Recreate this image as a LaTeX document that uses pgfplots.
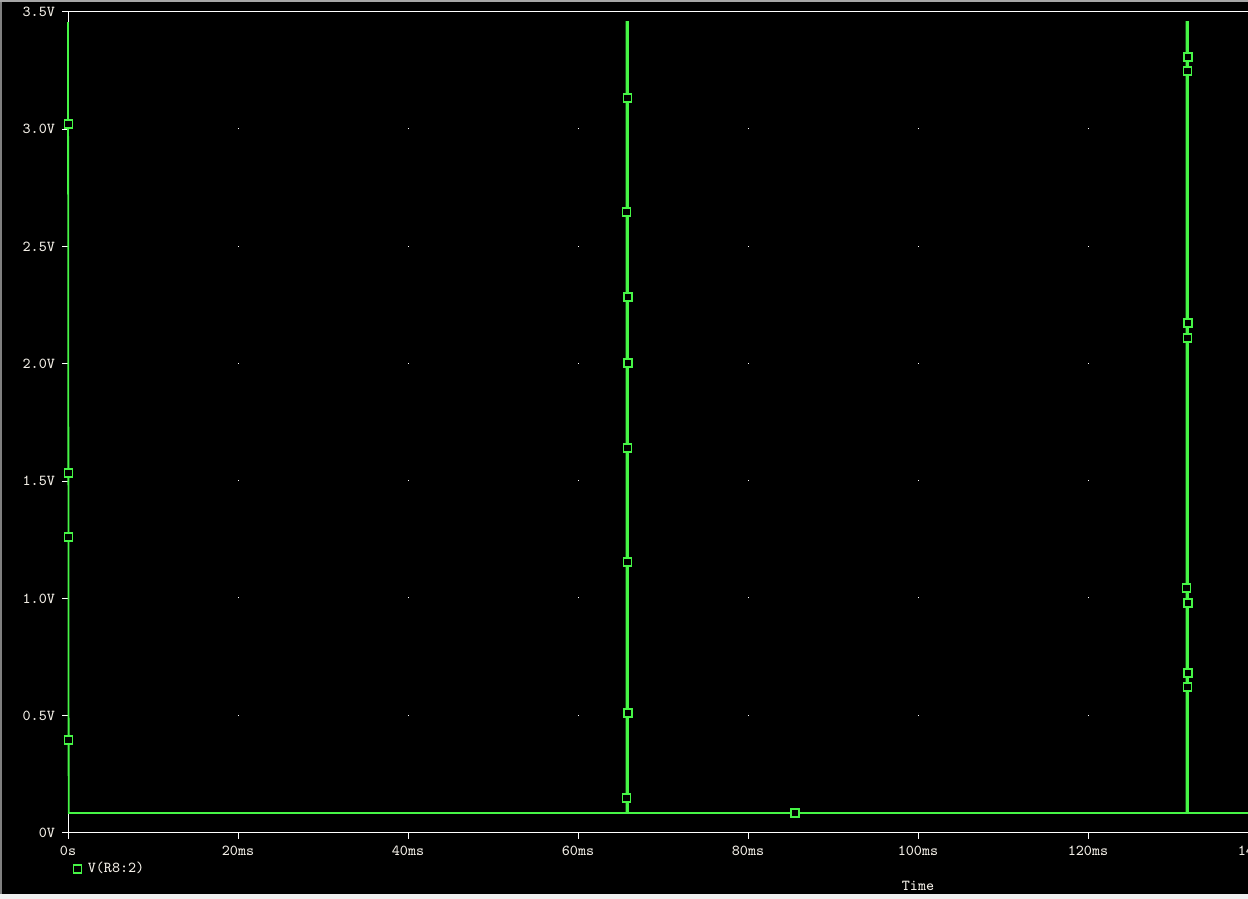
\documentclass[border=0pt]{standalone}
\usepackage{fontspec}
\usepackage{pgfplots}
\pgfplotsset{compat=1.18}
\definecolor{trace}{RGB}{70,245,70}
\definecolor{lbl}{RGB}{242,238,230}
\pgfplotstableread{
t v
0 3.457
0.08 0.085
65.72 0.085
65.72 3.457
65.89 3.457
65.89 0.085
131.60 0.085
131.60 3.457
131.77 3.457
131.77 0.085
140 0.085
}\tracedata
\pgfplotstableread{
t v
0.04 3.0225
0.04 1.5347
0.04 1.2619
0.04 0.3965
65.80 3.1333
65.72 2.6473
65.89 2.2850
65.89 2.0036
65.80 1.6413
65.80 1.1553
65.89 0.5116
65.72 0.1492
85.53 0.0853
131.77 3.3082
131.68 3.2485
131.77 2.1742
131.68 2.1103
131.60 1.0445
131.77 0.9805
131.77 0.6821
131.68 0.6224
}\markdata
\begin{document}
\begin{tikzpicture}
\clip (0,0) rectangle (624pt,449.5pt);
\fill[black] (0,0) rectangle (624pt,449.5pt);
\fill[black!50] (0,0) rectangle (1pt,449.5pt);
\fill[black!35] (0,448.5pt) rectangle (624pt,449.5pt);
\fill[black!6] (0,0) rectangle (624pt,2.5pt);
\begin{axis}[
  at={(34pt,33pt)}, anchor=south west,
  scale only axis, width=595pt, height=410.5pt,
  xmin=0, xmax=140, ymin=0, ymax=3.5,
  clip=false,
  axis line style={white, line width=0.5pt},
  xtick={0,20,...,140},
  xticklabels={0s,20ms,40ms,60ms,80ms,100ms,120ms,140ms},
  ytick={0,0.5,...,3.5},
  yticklabels={0V,0.5V,1.0V,1.5V,2.0V,2.5V,3.0V,3.5V},
  xtick pos=bottom, ytick pos=left,
  tick align=outside, major tick length=3pt,
  tick style={white, line width=0.5pt},
  ticklabel style={font=\fontsize{7.6}{8}\selectfont\ttfamily, text=lbl},
  xmajorgrids,
  major grid style={white, line width=0.5pt, dash pattern=on 0.5pt off 58.142857pt},
  xlabel={Time},
  xlabel style={at={(axis description cs:0.7143,-0.0646)}, anchor=center, font=\fontsize{7.6}{8}\selectfont\ttfamily, text=lbl},
  legend style={at={(axis description cs:0.0,-0.0438)}, anchor=west, draw=none, fill=none, text=lbl, font=\fontsize{7.6}{8}\selectfont\ttfamily, inner sep=0pt, outer sep=0pt},
  legend cell align=left,
  legend image code/.code={\path (0pt,0pt) -- (7.5pt,0pt); \draw[#1] plot coordinates {(4.5pt,0pt)};},
]
\addplot[trace, line width=0.9pt, forget plot] table[x=t, y=v] {\tracedata};
\addplot[only marks, mark=square*, mark size=2pt, mark options={draw=trace, fill=black, line width=0.6pt}] table[x=t, y=v] {\markdata};
\addlegendentry{V(R8:2)}
\end{axis}
\end{tikzpicture}
\end{document}
